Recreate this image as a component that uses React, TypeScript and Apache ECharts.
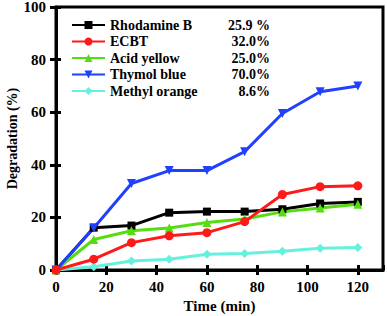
import React, { useEffect, useRef } from "react";
import * as echarts from "echarts";

const times = [0, 15, 30, 45, 60, 75, 90, 105, 120];
const seriesNames = ["Rhodamine B", "ECBT", "Acid yellow", "Thymol blue", "Methyl orange"];
const percentLabels = ["25.9 %", "32.0%", "25.0%", "70.0%", "8.6%"];
const rhodamineB = [0, 16.1, 16.9, 21.8, 22.2, 22.2, 23.1, 25.3, 25.9];
const ecbt = [0, 4.1, 10.4, 13.0, 14.2, 18.4, 28.7, 31.7, 32.0];
const acidYellow = [0, 11.6, 14.9, 16.0, 18.1, 19.4, 22.1, 23.6, 25.0];
const thymolBlue = [0, 16.0, 32.9, 37.8, 37.8, 45.0, 59.5, 67.8, 70.0];
const methylOrange = [0, 1.2, 3.4, 4.1, 6.0, 6.3, 7.1, 8.3, 8.6];

const colors = ["#000000", "#ff1a1a", "#55dd11", "#2040ff", "#66f0dd"];
const symbols = ["rect", "circle", "triangle", "triangle", "diamond"];
const rotations = [0, 0, 0, 180, 0];
const sizes = [8, 9, 9, 9, 9];

const FONT = "Liberation Serif";

export default function App() {
  const ref = useRef<HTMLDivElement>(null);
  useEffect(() => {
    if (!ref.current) return;
    const chart = echarts.init(ref.current, null, { renderer: "svg" });
    const allData = [rhodamineB, ecbt, acidYellow, thymolBlue, methylOrange];
    const series = allData.map((vals, i) => ({
      name: seriesNames[i],
      type: "line",
      data: vals.map((v, j) => [times[j], v]),
      symbol: symbols[i],
      symbolRotate: rotations[i],
      symbolSize: sizes[i],
      showAllSymbol: true,
      lineStyle: { color: colors[i], width: 3 },
      itemStyle: { color: colors[i] },
      z: i === 1 ? 5 : 3,
    }));
    const axisLabelStyle = { fontFamily: FONT, fontWeight: "bold", fontSize: 15, color: "#000" };
    chart.setOption({
      animation: false,
      textStyle: { fontFamily: FONT },
      grid: {
        left: 56,
        right: 4,
        top: 7,
        bottom: 46,
        outerBoundsMode: "none",
        containLabel: false,
        show: true,
        borderColor: "#000",
        borderWidth: 3,
        backgroundColor: "transparent",
      },
      legend: {
        left: 71,
        top: 18,
        padding: 0,
        orient: "vertical",
        selectedMode: false,
        itemWidth: 33,
        itemHeight: 10,
        itemGap: 2.5,
        data: seriesNames,
        formatter: (name: string) => {
          const idx = seriesNames.indexOf(name);
          return `{a|${name}}{b|${percentLabels[idx]}}`;
        },
        textStyle: {
          fontFamily: FONT,
          fontWeight: "bold",
          fontSize: 14,
          lineHeight: 14,
          color: "#000",
          rich: {
            a: { width: 112, fontFamily: FONT, fontWeight: "bold", fontSize: 14, lineHeight: 14, color: "#000" },
            b: { width: 48, align: "right", fontFamily: FONT, fontWeight: "bold", fontSize: 14, lineHeight: 14, color: "#000" },
          },
        },
      },
      xAxis: [
        {
          type: "value",
          min: 0,
          max: 130,
          interval: 20,
          position: "bottom",
          name: "Time (min)",
          nameLocation: "middle",
          nameGap: 28,
          nameMoveOverlap: false,
          nameTextStyle: { fontFamily: FONT, fontWeight: "bold", fontSize: 15, color: "#000" },
          axisLine: { show: true, lineStyle: { color: "#000", width: 3 } },
          axisTick: { show: true, inside: false, length: 5, lineStyle: { color: "#000", width: 3 } },
          axisLabel: { ...axisLabelStyle, margin: 9, showMaxLabel: false },
          splitLine: { show: false },
        },
        {
          type: "value",
          min: 0,
          max: 130,
          interval: 20,
          position: "bottom",
          axisLine: { show: false },
          axisTick: { show: true, inside: true, length: 5, lineStyle: { color: "#000", width: 3 } },
          axisLabel: { show: false },
          splitLine: { show: false },
        },
      ],
      yAxis: [
        {
          type: "value",
          min: 0,
          max: 100,
          interval: 20,
          position: "left",
          name: "Degradation (%)",
          nameLocation: "middle",
          nameGap: 37,
          nameMoveOverlap: false,
          nameTextStyle: { fontFamily: FONT, fontWeight: "bold", fontSize: 14, color: "#000" },
          axisLine: { show: true, lineStyle: { color: "#000", width: 3 } },
          axisTick: { show: true, inside: false, length: 6, lineStyle: { color: "#000", width: 3 } },
          axisLabel: { ...axisLabelStyle, margin: 10 },
          splitLine: { show: false },
        },
        {
          type: "value",
          min: 0,
          max: 100,
          interval: 20,
          position: "left",
          axisLine: { show: false },
          axisTick: { show: true, inside: true, length: 5, lineStyle: { color: "#000", width: 3 } },
          axisLabel: { show: false },
          splitLine: { show: false },
        },
      ],
      series,
    });
    return () => chart.dispose();
  }, []);
  return <div ref={ref} style={{ width: 387, height: 316, position: "absolute", left: 0, top: 0 }} />;
}
